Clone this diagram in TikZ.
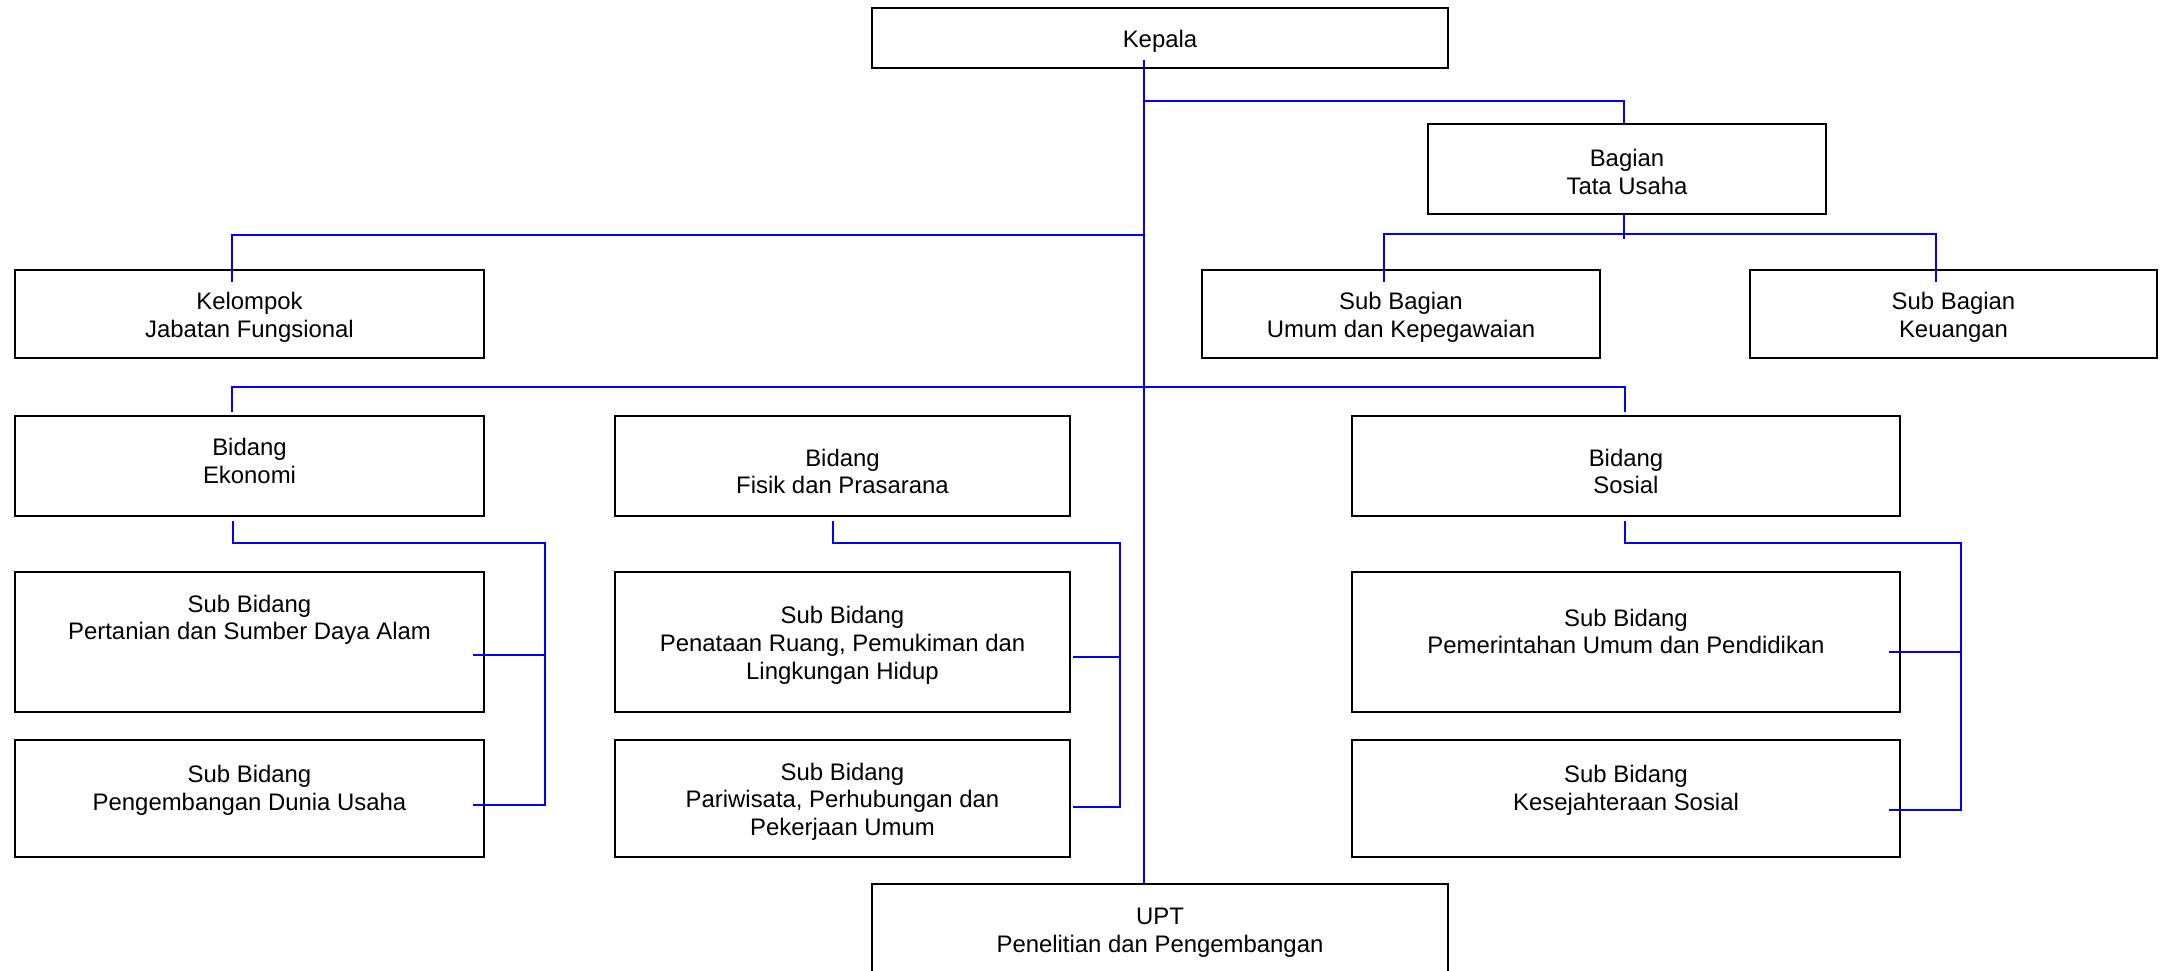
\documentclass[tikz,border=0pt]{standalone}
\usepackage{fontspec}
\setmainfont{Liberation Sans}

% strut on the first line of a box
\newcommand{\boxtop}[1][6.7pt]{\rule{0pt}{#1}}

\begin{document}
\begin{tikzpicture}[
    font=\fontsize{6.8pt}{7.9pt}\selectfont,
    box/.style={
      draw=black,
      line width=0.6pt,
      rectangle,
      align=center,
      inner sep=0pt
    },
    link/.style={draw=blue, line width=0.6pt}
  ]

  \path[use as bounding box] (0,0) rectangle (21.64,-9.71);
  \clip (0,0) rectangle (21.64,-9.71);

  % Row anchors
  \def\yKep{-0.38}
  \def\yBag{-1.69}
  \def\ySubBag{-3.14}
  \def\yBid{-4.66}
  \def\ySubA{-6.42}
  \def\ySubB{-7.985}
  \def\yUpt{-9.29}

  % Column centers
  \def\xKep{11.60}
  \def\xEko{2.495}
  \def\xFis{8.425}
  \def\xSos{16.26}

  % =====================================================
  % TOP
  % =====================================================
  \node[box, minimum width=5.76cm, minimum height=0.60cm] (kep)
  at (\xKep,\yKep) {\boxtop Kepala};

  \node[box, minimum width=3.98cm, minimum height=0.90cm] (bag)
  at (16.27,\yBag) {\boxtop Bagian\\Tata Usaha};

  \node[box, minimum width=4.69cm, minimum height=0.88cm] (kel)
  at (\xEko,\ySubBag) {\boxtop Kelompok\\Jabatan Fungsional};

  \node[box, minimum width=3.98cm, minimum height=0.88cm] (umum)
  at (14.01,\ySubBag) {\boxtop Sub Bagian\\Umum dan Kepegawaian};

  \node[box, minimum width=4.07cm, minimum height=0.88cm] (keu)
  at (19.535,\ySubBag) {\boxtop Sub Bagian\\Keuangan};

  % =====================================================
  % BIDANG
  % =====================================================
  \node[box, minimum width=4.69cm, minimum height=1.00cm,
  execute at end node={\rule[-4.8pt]{0pt}{0pt}}] (eko)
  at (\xEko,\yBid) {\boxtop Bidang\\Ekonomi};

  \node[box, minimum width=4.55cm, minimum height=1.00cm] (fis)
  at (\xFis,\yBid) {\boxtop[8.1pt]Bidang\\Fisik dan Prasarana};

  \node[box, minimum width=5.48cm, minimum height=1.00cm] (sos)
  at (\xSos,\yBid) {\boxtop[8.1pt]Bidang\\Sosial};

  % =====================================================
  % SUB BIDANG
  % =====================================================
  \node[box, minimum width=4.69cm, minimum height=1.40cm] (pert)
  at (\xEko,\ySubA) {\boxtop Sub Bidang\\Pertanian dan Sumber Daya Alam\\~\\~};

  \node[box, minimum width=4.69cm, minimum height=1.17cm] (peng)
  at (\xEko,\ySubB) {\boxtop Sub Bidang\\Pengembangan Dunia Usaha\\~};

  \node[box, minimum width=4.55cm, minimum height=1.40cm] (pena)
  at (\xFis,\ySubA) {\boxtop Sub Bidang\\Penataan Ruang, Pemukiman dan\\Lingkungan Hidup};

  \node[box, minimum width=4.55cm, minimum height=1.17cm] (pari)
  at (\xFis,\ySubB) {\boxtop Sub Bidang\\Pariwisata, Perhubungan dan\\Pekerjaan Umum};

  \node[box, minimum width=5.48cm, minimum height=1.40cm] (pem)
  at (\xSos,\ySubA) {\boxtop Sub Bidang\\Pemerintahan Umum dan Pendidikan\\~};

  \node[box, minimum width=5.48cm, minimum height=1.17cm] (kes)
  at (\xSos,\ySubB) {\boxtop Sub Bidang\\Kesejahteraan Sosial\\~};

  \node[box, minimum width=5.76cm, minimum height=0.90cm] (upt)
  at (\xKep,\yUpt) {\boxtop UPT\\Penelitian dan Pengembangan};

  % =====================================================
  % JUNCTIONS
  % =====================================================
  \coordinate (jBag) at (11.44,-1.01);
  \coordinate (jKel) at (11.44,-2.35);
  \coordinate (ekoBus) at (5.45,-5.43);
  \coordinate (fisBus) at (11.20,-5.43);
  \coordinate (sosBus) at (19.61,-5.43);

  % =====================================================
  % LINES
  % =====================================================
  \draw[link] ([xshift=-1.6mm,yshift=0.9mm]kep.south) -- ([xshift=-1.6mm]upt.north);

  \draw[link] (jBag) -| ([xshift=-0.3mm]bag.north);
  \draw[link] ([xshift=-0.3mm]bag.south) -- ++(0,-0.24);
  \draw[link] ([xshift=-1.7mm,yshift=-1.3mm]umum.north) -- ++(0,0.48)
  -| ([xshift=-1.75mm,yshift=-1.3mm]keu.north);

  \draw[link] ([xshift=-1.75mm,yshift=-1.3mm]kel.north) |- (jKel);

  \draw[link] ([xshift=-1.75mm,yshift=0.3mm]eko.north) -- ++(0,0.25)
  -| ([xshift=-0.1mm,yshift=0.3mm]sos.north);

  % Ekonomi
  \draw[link] ([xshift=-1.65mm,yshift=-0.4mm]eko.south) |- (ekoBus)
  |- ([xshift=-1.2mm,yshift=-1.3mm]pert.east);
  \draw[link] (ekoBus) |- ([xshift=-1.2mm,yshift=-0.65mm]peng.east);

  % Fisik
  \draw[link] ([xshift=-0.95mm,yshift=-0.4mm]fis.south) |- (fisBus)
  |- ([xshift=0.2mm,yshift=-1.5mm]pena.east);
  \draw[link] (fisBus) |- ([xshift=0.2mm,yshift=-0.85mm]pari.east);

  % Sosial
  \draw[link] ([xshift=-0.1mm,yshift=-0.4mm]sos.south) |- (sosBus)
  |- ([xshift=-1.2mm,yshift=-1.0mm]pem.east);
  \draw[link] (sosBus) |- ([xshift=-1.2mm,yshift=-1.15mm]kes.east);

\end{tikzpicture}
\end{document}
